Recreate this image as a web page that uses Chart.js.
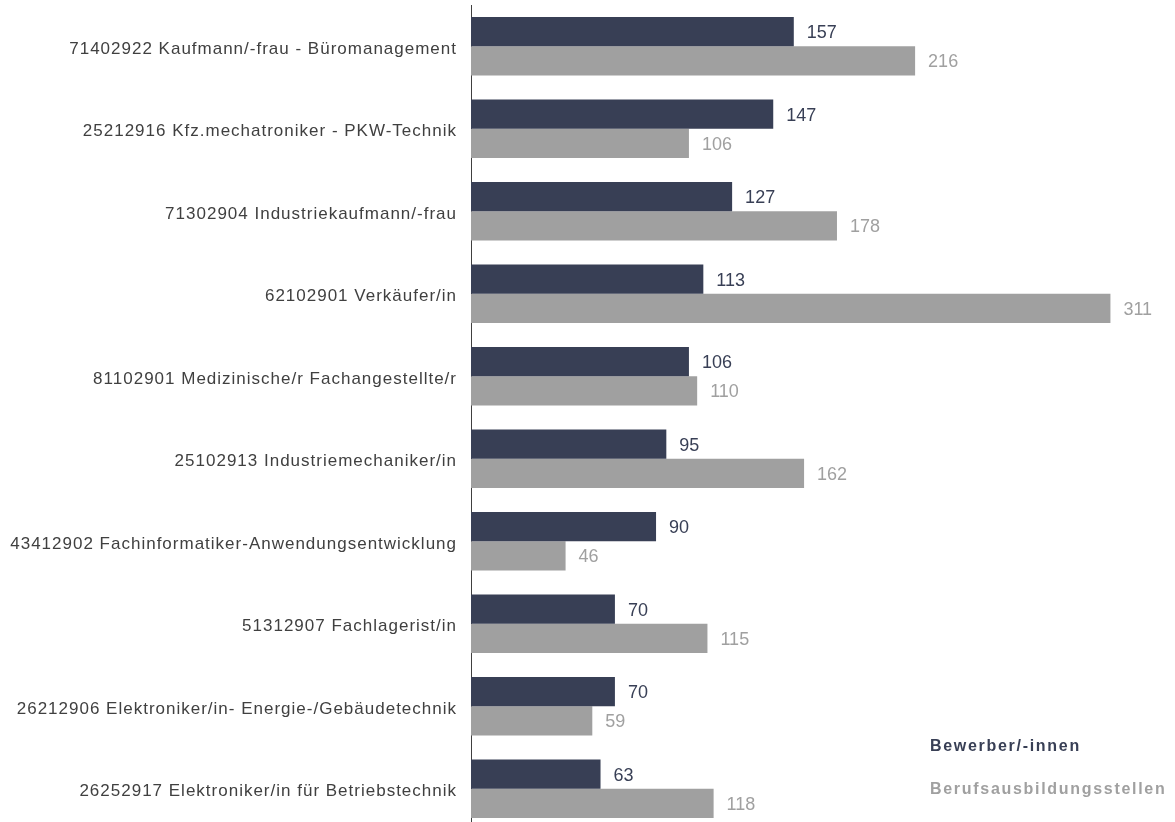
<!DOCTYPE html>
<html><head><meta charset="utf-8">
<script src="https://cdn.jsdelivr.net/npm/chart.js@4/dist/chart.umd.min.js"></script>
<style>html,body{margin:0;padding:0;background:#fff;overflow:hidden;}#wrap{position:relative;width:1175px;height:822px;overflow:hidden;}canvas{display:block;}</style>
</head><body><div id="wrap"><canvas id="c" width="1175" height="830"></canvas></div>
<script>
const categories = [
  "71402922 Kaufmann/-frau - Büromanagement",
  "25212916 Kfz.mechatroniker - PKW-Technik",
  "71302904 Industriekaufmann/-frau",
  "62102901 Verkäufer/in",
  "81102901 Medizinische/r Fachangestellte/r",
  "25102913 Industriemechaniker/in",
  "43412902 Fachinformatiker-Anwendungsentwicklung",
  "51312907 Fachlagerist/in",
  "26212906 Elektroniker/in- Energie-/Gebäudetechnik",
  "26252917 Elektroniker/in für Betriebstechnik"
];
const bewerber = [157, 147, 127, 113, 106, 95, 90, 70, 70, 63];
const stellen = [216, 106, 178, 311, 110, 162, 46, 115, 59, 118];
const seriesNames = ["Bewerber/-innen", "Berufsausbildungsstellen"];
const colors = ["#383f55", "#a0a0a0"];

const spacing = {
  id: 'spacing',
  beforeDraw(chart) { chart.ctx.letterSpacing = '1px'; }
};
const valueLabels = {
  id: 'valueLabels',
  afterDatasetsDraw(chart) {
    const ctx = chart.ctx;
    ctx.save();
    ctx.letterSpacing = '0px';
    ctx.font = '18px "Liberation Sans", Arial, sans-serif';
    ctx.textBaseline = 'middle';
    ctx.textAlign = 'left';
    chart.data.datasets.forEach((ds, i) => {
      const meta = chart.getDatasetMeta(i);
      ctx.fillStyle = colors[i];
      meta.data.forEach((bar, j) => {
        ctx.fillText(String(ds.data[j]), bar.x + 13, bar.y + 1.5);
      });
    });
    ctx.restore();
  }
};
const textLegend = {
  id: 'textLegend',
  afterDraw(chart) {
    const ctx = chart.ctx;
    ctx.save();
    ctx.letterSpacing = '1.7px';
    ctx.font = 'bold 16px "Liberation Sans", Arial, sans-serif';
    ctx.textBaseline = 'middle';
    ctx.textAlign = 'left';
    ctx.fillStyle = colors[0];
    ctx.fillText(seriesNames[0], 930, 747);
    ctx.fillStyle = colors[1];
    ctx.fillText(seriesNames[1], 930, 790);
    ctx.restore();
  }
};

new Chart(document.getElementById('c'), {
  type: 'bar',
  data: {
    labels: categories,
    datasets: [
      { label: seriesNames[0], data: bewerber, backgroundColor: colors[0], categoryPercentage: 0.708, barPercentage: 1.0 },
      { label: seriesNames[1], data: stellen, backgroundColor: colors[1], categoryPercentage: 0.708, barPercentage: 1.0 }
    ]
  },
  options: {
    indexAxis: 'y',
    responsive: false,
    animation: false,
    layout: { padding: { top: 5, bottom: 0, left: 0, right: 7 } },
    plugins: { legend: { display: false }, tooltip: { enabled: false } },
    scales: {
      x: { display: false, min: 0, max: 339 },
      y: {
        afterFit(scale) { scale.width = 471; scale.paddingTop = 0; scale.paddingBottom = 0; },
        grid: { display: false, drawTicks: false },
        border: { display: true, color: '#404040', width: 1 },
        ticks: { color: '#404040', padding: 14, labelOffset: 3, font: { family: '"Liberation Sans", Arial, sans-serif', size: 17 } }
      }
    }
  },
  plugins: [spacing, valueLabels, textLegend]
});
</script></body></html>
